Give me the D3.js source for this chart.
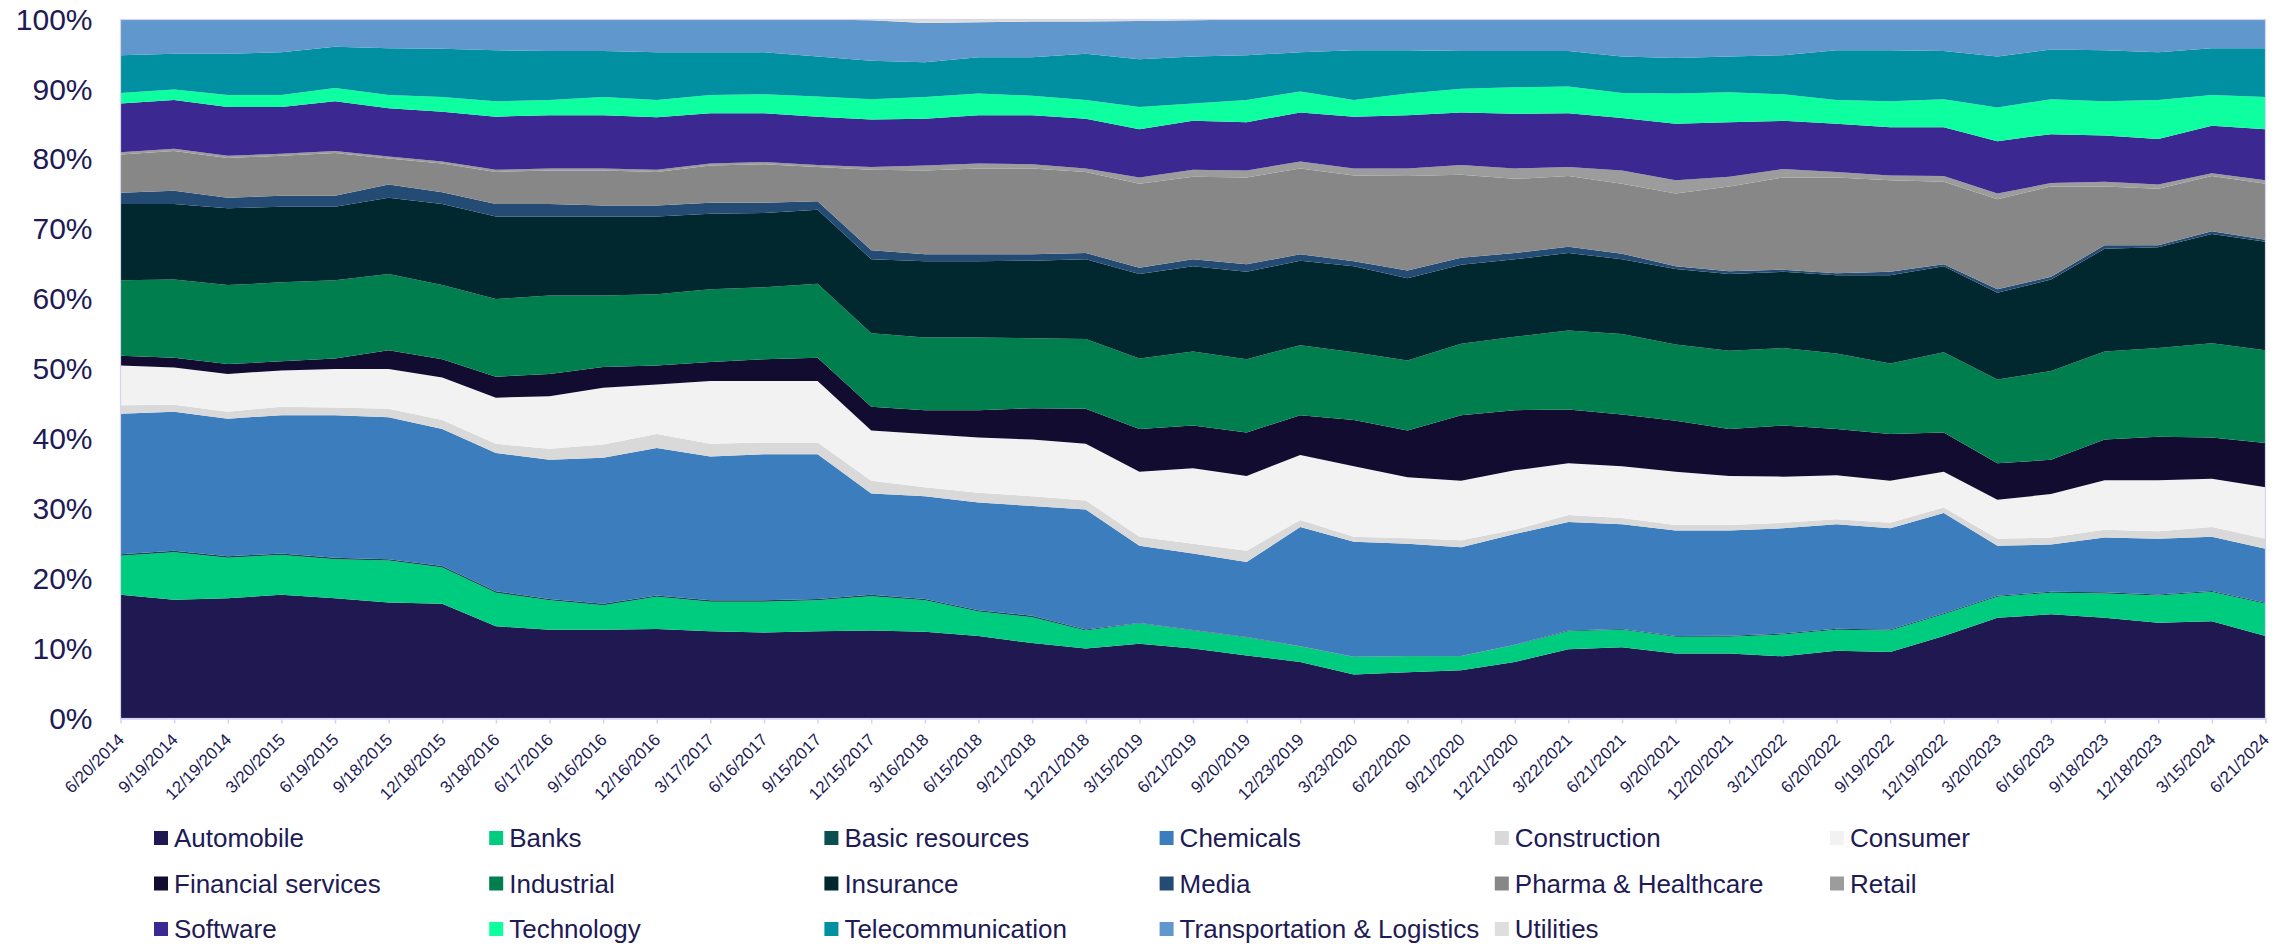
<!DOCTYPE html>
<html>
<head>
<meta charset="utf-8">
<script src="https://cdn.jsdelivr.net/npm/d3@7"></script>
<style>
  html, body { margin: 0; padding: 0; background: #ffffff; }
  svg { display: block; }
  text { font-family: "Liberation Sans", Arial, sans-serif; fill: #201a55; }
</style>
</head>
<body>
<svg id="chart" width="2295" height="944"></svg>
<script>
const dates = ["6/20/2014","9/19/2014","12/19/2014","3/20/2015","6/19/2015","9/18/2015","12/18/2015","3/18/2016","6/17/2016","9/16/2016","12/16/2016","3/17/2017","6/16/2017","9/15/2017","12/15/2017","3/16/2018","6/15/2018","9/21/2018","12/21/2018","3/15/2019","6/21/2019","9/20/2019","12/23/2019","3/23/2020","6/22/2020","9/21/2020","12/21/2020","3/22/2021","6/21/2021","9/20/2021","12/20/2021","3/21/2022","6/20/2022","9/19/2022","12/19/2022","3/20/2023","6/16/2023","9/18/2023","12/18/2023","3/15/2024","6/21/2024"];

const seriesNames = ["Automobile","Banks","Basic resources","Chemicals","Construction","Consumer","Financial services","Industrial","Insurance","Media","Pharma & Healthcare","Retail","Software","Technology","Telecommunication","Transportation & Logistics","Utilities"];

const seriesColors = ["#201850","#00cc7f","#0b4f50","#3c7dbd","#d9d9d9","#f2f2f2","#120c30","#007e4e","#00282e","#244b73","#878787","#9c9c9c","#3b2890","#0dffa0","#0090a2","#6097cc","#dedede"];

const automobile = [17.7,17.0,17.2,17.7,17.2,16.6,16.4,13.2,12.7,12.7,12.8,12.5,12.3,12.5,12.6,12.4,11.8,10.8,10.0,10.7,10.0,9.0,8.1,6.3,6.6,6.9,8.1,9.9,10.2,9.3,9.3,8.9,9.7,9.5,11.8,14.4,14.9,14.4,13.7,13.9,11.8];
const banks = [5.6,6.8,5.8,5.7,5.6,6.0,5.2,4.8,4.2,3.5,4.6,4.2,4.4,4.4,4.9,4.5,3.5,3.7,2.6,2.9,2.6,2.6,2.2,2.5,2.3,2.0,2.4,2.6,2.5,2.4,2.4,3.1,3.0,3.1,3.1,3.0,3.1,3.5,3.9,4.2,4.6];
const basicResources = [0.2,0.2,0.2,0.2,0.2,0.2,0.2,0.2,0.2,0.2,0.2,0.2,0.2,0.2,0.2,0.2,0.2,0.2,0.15,0.05,0.05,0.05,0.05,0.05,0.05,0.05,0.05,0.1,0.1,0.1,0.15,0.15,0.15,0.15,0.15,0.15,0.15,0.15,0.15,0.15,0.15];
const chemicals = [20.1,19.9,19.7,19.8,20.4,20.3,19.6,19.8,19.9,20.9,21.1,20.6,20.9,20.7,14.5,14.7,15.4,15.7,17.15,11.05,10.95,10.75,17.05,16.45,16.05,15.55,15.85,15.5,15.0,15.1,15.05,15.05,14.95,14.45,14.35,7.15,6.75,7.85,7.95,7.75,7.75];
const construction = [1.2,1.0,1.0,1.2,1.1,1.2,1.3,1.3,1.6,1.9,2.0,1.8,1.7,1.7,1.8,1.3,1.4,1.4,1.3,1.3,1.4,1.6,1.0,0.7,0.8,1.0,0.6,1.0,0.9,0.8,0.8,0.8,0.7,0.8,0.8,1.0,1.0,1.1,1.1,1.4,1.4];
const consumer = [5.7,5.3,5.4,5.2,5.5,5.7,6.1,6.6,7.5,8.1,7.1,9.0,8.8,8.8,7.2,7.6,7.9,8.1,8.1,9.3,10.8,10.7,9.3,10.1,8.7,8.5,8.5,7.4,7.4,7.6,7.0,6.6,6.3,6.0,5.1,5.6,6.2,7.1,7.3,6.9,7.4];
const financialServices = [1.4,1.4,1.4,1.3,1.5,2.7,2.6,3.0,3.2,3.0,2.7,2.7,3.1,3.3,3.4,3.4,3.9,4.5,5.0,6.1,6.1,6.2,5.7,6.6,6.7,9.4,8.6,7.7,7.4,7.3,6.7,7.3,6.6,6.7,5.6,5.2,4.9,5.8,6.2,5.9,6.3];
const industrial = [10.8,11.2,11.3,11.3,11.2,10.9,10.6,11.1,11.2,10.2,10.2,10.4,10.3,10.6,10.5,10.4,10.4,10.0,10.0,10.1,10.6,10.5,10.0,9.7,10.0,10.2,10.5,11.3,11.5,10.9,11.2,11.1,10.8,10.1,11.5,12.0,12.7,12.6,12.7,13.5,13.3];
const insurance = [10.9,10.8,11.0,10.8,10.5,10.9,11.6,11.8,11.3,11.3,11.1,10.8,10.6,10.6,10.6,10.9,10.9,11.1,11.4,12.1,12.2,12.5,12.1,12.3,11.8,11.3,11.1,11.1,10.7,10.8,11.0,10.9,11.2,12.6,12.3,12.4,13.1,14.7,14.4,15.6,15.5];
const media = [1.6,1.9,1.5,1.6,1.6,1.9,1.7,1.8,1.8,1.6,1.6,1.6,1.5,1.2,1.3,1.0,1.0,0.9,0.9,0.9,1.0,1.1,0.9,0.7,1.1,1.0,0.9,0.9,0.8,0.4,0.4,0.3,0.3,0.5,0.3,0.5,0.4,0.5,0.3,0.4,0.3];
const pharmaHealthcare = [5.5,5.7,5.7,5.7,6.1,3.7,4.1,4.6,4.8,5.0,4.8,5.3,5.5,4.9,11.5,12.0,12.3,12.3,11.6,12.0,11.8,12.4,12.3,12.3,13.5,11.9,10.6,10.1,10.0,10.4,12.1,13.2,13.7,13.1,11.8,12.9,12.9,8.4,8.1,7.9,8.0];
const retail = [0.3,0.3,0.3,0.3,0.3,0.3,0.3,0.3,0.3,0.3,0.3,0.3,0.3,0.3,0.4,0.7,0.7,0.6,0.5,0.9,1.0,1.0,1.0,1.0,1.1,1.4,1.5,1.3,1.9,1.9,1.4,1.2,0.8,0.7,0.8,0.8,0.5,0.7,0.6,0.4,0.5];
const software = [7.0,7.0,7.0,6.7,7.1,6.9,7.1,7.6,7.6,7.6,7.5,7.2,7.0,6.9,6.8,6.7,6.9,7.0,7.1,6.9,7.0,6.9,7.0,7.4,7.6,7.5,7.8,7.7,7.5,8.1,7.8,6.9,6.9,6.9,7.0,7.5,7.0,6.6,6.5,6.8,7.3];
const technology = [1.5,1.5,1.7,1.7,1.9,1.9,2.1,2.2,2.2,2.6,2.5,2.6,2.7,2.9,2.9,3.1,3.1,2.8,2.7,3.2,2.5,3.2,3.0,2.4,3.1,3.4,3.8,3.8,3.6,4.3,4.3,3.8,3.4,3.7,4.0,4.8,5.0,4.9,5.6,4.4,4.6];
const telecommunication = [5.4,5.1,5.9,6.1,5.9,6.7,6.9,7.3,7.0,6.6,6.8,6.1,6.0,5.7,5.5,5.0,5.2,5.5,6.6,6.8,6.7,6.4,5.6,7.1,6.2,5.4,5.2,5.1,5.2,5.1,5.1,5.6,7.1,7.3,6.9,7.3,7.1,7.3,6.8,6.7,7.0];
const transportation = [5.1,4.9,4.9,4.7,3.9,4.1,4.2,4.4,4.5,4.5,4.7,4.7,4.7,5.3,5.8,5.6,5.0,5.1,4.6,5.5,5.2,5.1,4.7,4.4,4.4,4.5,4.5,4.5,5.3,5.5,5.3,5.1,4.4,4.4,4.5,5.3,4.3,4.4,4.7,4.1,4.1];
const utilities = [0,0,0,0,0,0,0,0,0,0,0,0,0,0,0.1,0.5,0.4,0.3,0.3,0.2,0.1,0,0,0,0,0,0,0,0,0,0,0,0,0,0,0,0,0,0,0,0];

const yTicks = [0,0.1,0.2,0.3,0.4,0.5,0.6,0.7,0.8,0.9,1.0];

const seriesValues = [automobile,banks,basicResources,chemicals,construction,consumer,financialServices,industrial,insurance,media,pharmaHealthcare,retail,software,technology,telecommunication,transportation,utilities];

// table built from the arrays
const table = dates.map((d, i) => {
  const row = { date: d };
  seriesNames.forEach((n, k) => { row[n] = seriesValues[k][i]; });
  return row;
});

const svg = d3.select("#chart");
const plotLeft = 120.5, plotRight = 2265.5, plotTop = 19.5, plotBottom = 718.5;

const x = d3.scalePoint().domain(dates).range([plotLeft, plotRight]);
const y = d3.scaleLinear().domain([0, 1]).range([plotBottom, plotTop]);
const color = d3.scaleOrdinal().domain(seriesNames).range(seriesColors);

const stack = d3.stack().keys(seriesNames).offset(d3.stackOffsetExpand).order(d3.stackOrderNone);
const layers = stack(table);

const area = d3.area()
  .x(d => x(d.data.date))
  .y0(d => y(d[0]))
  .y1(d => y(d[1]))
  .curve(d3.curveLinear);

svg.append("g").selectAll("path")
  .data(layers)
  .join("path")
  .attr("d", area)
  .attr("fill", d => color(d.key));

// plot border
svg.append("rect")
  .attr("x", plotLeft).attr("y", plotTop)
  .attr("width", plotRight - plotLeft).attr("height", plotBottom - plotTop)
  .attr("fill", "none").attr("stroke", "#d6d5f0").attr("stroke-width", 1.2);

// x axis
const xAxis = svg.append("g")
  .attr("transform", `translate(0,${plotBottom})`)
  .call(d3.axisBottom(x).tickSize(5).tickSizeOuter(0));
xAxis.select(".domain").attr("stroke", "#d3d2ef").attr("stroke-width", 1.5);
xAxis.selectAll(".tick line").attr("stroke", "#d3d2ef").attr("stroke-width", 1.5);
xAxis.selectAll(".tick text")
  .attr("font-size", 17)
  .attr("text-anchor", "end")
  .attr("y", 0).attr("x", 0).attr("dy", "0.35em")
  .attr("transform", "translate(0,18) rotate(-45)")
  .style("fill", "#201a55");

// y axis
const yAxis = svg.append("g")
  .attr("transform", `translate(${plotLeft},0)`)
  .call(d3.axisLeft(y).tickValues(yTicks).tickFormat(d3.format(".0%")).tickSize(0).tickPadding(28));
yAxis.select(".domain").remove();
yAxis.selectAll(".tick text").attr("font-size", 30).style("fill", "#201a55");

// legend
const legend = svg.append("g");
seriesNames.forEach((n, k) => {
  const col = k % 6, row = Math.floor(k / 6);
  const gx = 154 + col * 335.2, gy = 838 + row * 45.5;
  const g = legend.append("g").attr("transform", `translate(${gx},${gy})`);
  g.append("rect").attr("x", 0).attr("y", -7).attr("width", 14).attr("height", 14).attr("fill", color(n));
  g.append("text").attr("x", 20).attr("y", 0).attr("dy", "0.35em").attr("font-size", 26).text(n);
});
</script>
</body>
</html>
